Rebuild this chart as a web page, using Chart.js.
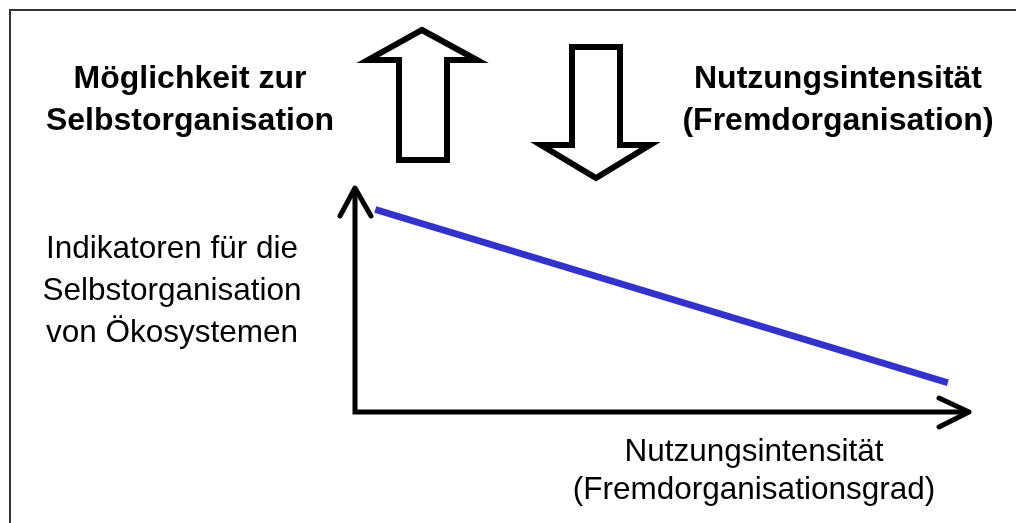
<!DOCTYPE html>
<html lang="de">
<head>
<meta charset="utf-8">
<title>Nutzungsintensität und Selbstorganisation</title>
<script src="https://cdn.jsdelivr.net/npm/chart.js@4.4.1/dist/chart.umd.min.js"></script>
<style>
  html, body { margin: 0; padding: 0; background: #fff; }
  canvas { display: block; }
</style>
</head>
<body>
<canvas id="schema" width="1016" height="523"></canvas>
<script>
// Nutzungsintensität (x) gegen Selbstorganisation (y), beliebige Einheiten
const intensity = [0.33, 9.64];
const selfOrganisation = [9.0, 1.3];
const axisRange = [0, 10];

const labelTopLeft = ['Möglichkeit zur', 'Selbstorganisation'];
const labelTopRight = ['Nutzungsintensität', '(Fremdorganisation)'];
const labelYAxis = ['Indikatoren für die', 'Selbstorganisation', 'von Ökosystemen'];
const labelXAxis = ['Nutzungsintensität', '(Fremdorganisationsgrad)'];

const FONT = '"Liberation Sans", Arial, Helvetica, sans-serif';

function blockArrow(ctx, pts) {
    ctx.beginPath();
    pts.forEach(([x, y], i) => i ? ctx.lineTo(x, y) : ctx.moveTo(x, y));
    ctx.closePath();
    ctx.fillStyle = '#fff';
    ctx.fill();
    ctx.stroke();
}

function lines(ctx, txt, x, y0, step, font) {
    ctx.font = font;
    txt.forEach((t, i) => ctx.fillText(t, x, y0 + i * step));
}

// Achsen, Pfeile, Rahmen und Beschriftungen
const decor = {
    id: 'decor',
    beforeDatasetsDraw(chart) {
        const ctx = chart.ctx;
        const x = chart.scales.x, y = chart.scales.y;
        const x0 = x.getPixelForValue(axisRange[0]);
        const x1 = x.getPixelForValue(axisRange[1]);
        const y0 = y.getPixelForValue(axisRange[0]);
        const y1 = y.getPixelForValue(axisRange[1]);
        ctx.save();

        // rahmen
        ctx.strokeStyle = '#333';
        ctx.lineWidth = 2;
        ctx.beginPath();
        ctx.moveTo(10, chart.height);
        ctx.lineTo(10, 10);
        ctx.lineTo(chart.width, 10);
        ctx.stroke();

        // achsen
        ctx.strokeStyle = '#000';
        ctx.lineWidth = 5;
        ctx.lineJoin = 'miter';
        ctx.beginPath();
        ctx.moveTo(x0, y1 + 2);
        ctx.lineTo(x0, y0);
        ctx.lineTo(x1 - 2, y0);
        ctx.stroke();

        ctx.lineCap = 'round';
        ctx.lineJoin = 'round';
        ctx.beginPath();
        ctx.moveTo(x0 - 15, y1 + 29);
        ctx.lineTo(x0, y1 + 1);
        ctx.lineTo(x0 + 16, y1 + 29);
        ctx.moveTo(x1 - 31, y0 - 14);
        ctx.lineTo(x1 - 1, y0);
        ctx.lineTo(x1 - 31, y0 + 15);
        ctx.stroke();

        // hohle pfeile oben
        ctx.lineWidth = 6;
        ctx.lineJoin = 'miter';
        ctx.lineCap = 'butt';
        blockArrow(ctx, [[422, 30], [477, 60], [447, 60], [447, 160],
                         [399, 160], [399, 60], [368, 60]]);
        blockArrow(ctx, [[572, 47], [620, 47], [620, 145], [650, 145],
                         [596, 178], [541, 145], [572, 145]]);

        // text
        ctx.fillStyle = '#000';
        ctx.textAlign = 'center';
        ctx.textBaseline = 'alphabetic';
        lines(ctx, labelTopLeft, 190, 88, 42, 'bold 32px ' + FONT);
        lines(ctx, labelTopRight, 838, 88, 42, 'bold 32px ' + FONT);
        lines(ctx, labelYAxis, 172, 258, 42, '31.5px ' + FONT);
        lines(ctx, labelXAxis, 754, 461, 38, '31.5px ' + FONT);
        ctx.restore();
    }
};

new Chart(document.getElementById('schema'), {
    type: 'line',
    data: {
        datasets: [{
            label: 'Selbstorganisation',
            data: intensity.map((v, i) => ({ x: v, y: selfOrganisation[i] })),
            borderColor: '#3333cc',
            borderWidth: 7,
            borderCapStyle: 'butt',
            pointRadius: 0,
            tension: 0,
            fill: false
        }]
    },
    options: {
        responsive: false,
        animation: false,
        layout: { padding: { left: 355, top: 187, right: 46, bottom: 111 } },
        scales: {
            x: { type: 'linear', min: axisRange[0], max: axisRange[1], display: false },
            y: { type: 'linear', min: axisRange[0], max: axisRange[1], display: false }
        },
        plugins: {
            legend: { display: false },
            tooltip: { enabled: false }
        }
    },
    plugins: [decor]
});
</script>
</body>
</html>
